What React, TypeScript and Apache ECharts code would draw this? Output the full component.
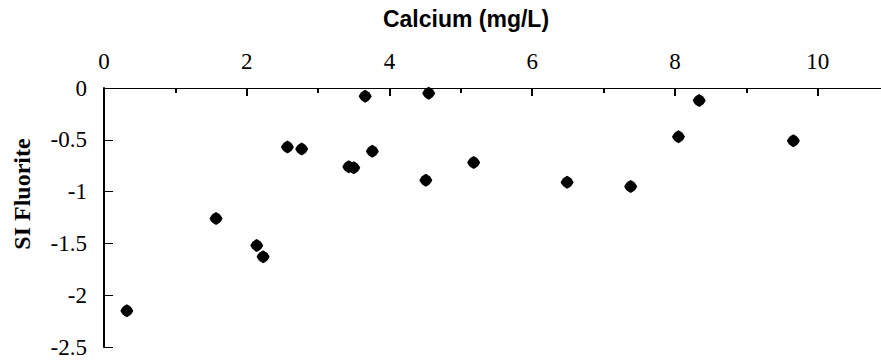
import React, { useEffect, useRef } from "react";
import * as echarts from "echarts";

const calcium = [0.32, 1.57, 2.14, 2.23, 2.57, 2.77, 3.43, 3.5, 3.66, 3.76, 4.51, 4.55, 5.18, 6.49, 7.38, 8.05, 8.34, 9.66];
const siFluorite = [-2.15, -1.26, -1.52, -1.63, -0.57, -0.59, -0.76, -0.77, -0.08, -0.61, -0.89, -0.05, -0.72, -0.91, -0.95, -0.47, -0.12, -0.51];
const xTitle = "Calcium (mg/L)";
const yTitle = "SI Fluorite";

const markerPath = "path://M0,-10 Q7,-7 10,0 Q7,7 0,10 Q-7,7 -10,0 Q-7,-7 0,-10 Z";

export default function App() {
  const ref = useRef<HTMLDivElement>(null);
  useEffect(() => {
    if (!ref.current) return;
    const chart = echarts.init(ref.current, null, { renderer: "svg" });
    const points = calcium.map((x, i) => [x, siFluorite[i]]);
    chart.setOption({
      animation: false,
      backgroundColor: "#ffffff",
      grid: {
        left: 104,
        top: 88,
        bottom: 13,
        width: 785,
        containLabel: false,
        outerBoundsMode: "none",
      },
      xAxis: {
        type: "value",
        position: "top",
        min: 0,
        max: 11,
        interval: 2,
        axisLine: { show: true, onZero: false, lineStyle: { color: "#000", width: 1 } },
        axisTick: { show: true, inside: true, length: 8, lineStyle: { color: "#000", width: 2 } },
        minorTick: { show: true, splitNumber: 2, length: 5, lineStyle: { color: "#000", width: 2 } },
        splitLine: { show: false },
        axisLabel: {
          margin: 15,
          color: "#000",
          fontFamily: "Liberation Serif",
          fontSize: 23,
          formatter: (v: number) => (v % 2 === 0 && v <= 10 ? String(v) : ""),
        },
      },
      yAxis: {
        type: "value",
        min: -2.5,
        max: 0,
        interval: 0.5,
        axisLine: { show: true, onZero: false, lineStyle: { color: "#000", width: 2 } },
        axisTick: { show: true, inside: true, length: 9, lineStyle: { color: "#000", width: 1 } },
        splitLine: { show: false },
        axisLabel: {
          margin: 17,
          color: "#000",
          fontFamily: "Liberation Serif",
          fontSize: 23,
        },
      },
      graphic: [
        {
          type: "text",
          x: 466,
          y: 19,
          style: {
            text: xTitle,
            fill: "#000",
            font: "bold 23px 'Liberation Sans'",
            textAlign: "center",
            textVerticalAlign: "middle",
          },
        },
        {
          type: "text",
          x: 22,
          y: 194,
          rotation: Math.PI / 2,
          style: {
            text: yTitle,
            fill: "#000",
            font: "bold 24px 'Liberation Serif'",
            textAlign: "center",
            textVerticalAlign: "middle",
          },
        },
      ],
      series: [
        {
          type: "scatter",
          data: points,
          symbol: markerPath,
          symbolSize: 13,
          itemStyle: { color: "#000", opacity: 1 },
        },
      ],
    });
    return () => chart.dispose();
  }, []);
  return (
    <div
      ref={ref}
      style={{ position: "fixed", left: 0, top: 0, width: 881, height: 360, background: "#fff" }}
    />
  );
}
